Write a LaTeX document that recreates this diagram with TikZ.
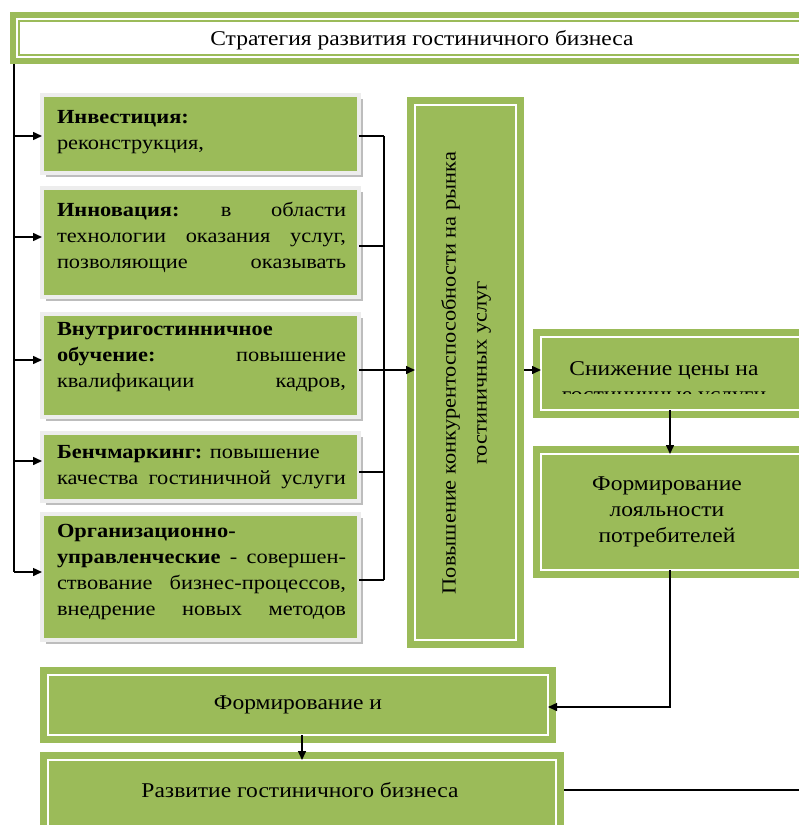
\documentclass[tikz,border=0pt]{standalone}
\usepackage{fontspec}
\setmainfont{Liberation Serif}[FakeStretch=1.12]
\usetikzlibrary{arrows.meta,shadows,fit}
\definecolor{gr}{HTML}{9BBB59}
\definecolor{lb}{HTML}{EDEDED}
\definecolor{sh}{HTML}{BDBDBD}
\newcommand\dfont{\fontsize{21}{26}\selectfont}
\newcommand\lfont{\fontsize{20}{26}\selectfont}
\begin{document}
\begin{tikzpicture}[x=1pt,y=-1pt,
  every node/.style={font=\dfont, inner sep=0pt, outer sep=0pt},
  lbox/.style={draw=lb, line width=3.5pt, fill=gr, drop shadow={shadow xshift=3.5pt, shadow yshift=-3.5pt, fill=sh, opacity=1}},
  gbox/.style={fill=gr, draw=white, line width=2pt, preaction={draw=gr, line width=16pt}},
  tbox/.style={fill=white, draw=gr, line width=1.5pt, preaction={draw=gr, line width=18pt}, preaction={draw=white, line width=6pt}},
  ltext/.style={anchor=north west, text width=289pt, align=justify, font=\lfont},
  ln/.style={line width=1.5pt, black},
  arr/.style={ln, -{Triangle[length=9pt,width=8pt]}}
]
\useasboundingbox (0,0) rectangle (799,825);
\clip (0,0) rectangle (799,825);
\fill[white] (0,0) rectangle (799,825);

% title
\node[tbox, fit={(19,21) (840,55)}] (title) {};
\node[anchor=base] (titletext) at (422,45) {Стратегия развития гостиничного бизнеса};

% left boxes
\node[lbox, fit={(42,95) (359,173)}] (b1) {};
\node[lbox, fit={(42,188) (359,297)}] (b2) {};
\node[lbox, fit={(42,314) (359,417)}] (b3) {};
\node[lbox, fit={(42,433) (359,501)}] (b4) {};
\node[lbox, fit={(42,514) (359,640)}] (b5) {};

\node[ltext] (t1) at (57,104.8) {\strut\textbf{Инвестиция:}\\реконструкция,};
\node[ltext] (t2) at (57,197.8) {\strut\textbf{Инновация:} \hfill в \hfill области\\
технологии \hfill оказания \hfill услуг,\\
позволяющие \hfill оказывать};
\node[ltext] (t3) at (57,316.8) {\strut\textbf{Внутригостинничное}\\
\textbf{обучение:} \hfill повышение\\
квалификации \hfill кадров,};
\node[ltext] (t4) at (57,439.8) {\strut\textbf{Бенчмаркинг:} повышение\\
качества \hfill гостиничной \hfill услуги};
\node[ltext] (t5) at (57,518.8) {\strut\textbf{Организационно-}\\
\textbf{управленческие} \hfill - \hfill совершен-\\
ствование \hfill бизнес-процессов,\\
внедрение \hfill новых \hfill методов};

% tall box
\node[gbox, fit={(415,105) (516,640)}] (tall) {};
\node[rotate=90, align=center, font=\fontsize{20}{31}\selectfont] (talltext) at (466,373) {Повышение конкурентоспособности на рынка\\гостиничных услуг};

% right boxes
\node[gbox, fit={(541,337) (840,410)}] (s1) {};
\begin{scope}
\clip (541,338) rectangle (840,393);
\node[anchor=base] (s1a) at (664,375) {Снижение цены на};
\node[anchor=base] (s1b) at (664,401) {гостиничные услуги};
\end{scope}
\node[gbox, fit={(541,454) (840,570)}] (f1) {};
\node[anchor=north, align=center] (f1text) at (667,471.8) {\strut Формирование\\лояльности\\потребителей};

% bottom boxes
\node[gbox, fit={(48,675) (548,735)}] (fi) {};
\node (fitext) at (298,705) {Формирование и};
\node[gbox, fit={(48,760) (556,840)}] (rz) {};
\node[anchor=base] (rztext) at (300,797) {Развитие гостиничного бизнеса};

% left bus
\coordinate (L) at (14,64);
\draw[ln] (L) -- (L |- 0,572);
\foreach \b/\y in {b1/136,b2/237,b3/360,b4/461,b5/572}
  \draw[arr] (L |- 0,\y) -- (\b.west |- 0,\y);

% right bus
\coordinate (R) at (384,136);
\foreach \b/\y in {b1/136,b2/246,b3/370,b4/472,b5/580}
  \draw[ln] (\b.east |- 0,\y) -- (R |- 0,\y);
\draw[ln] (R) -- (R |- 0,580);
\draw[arr] (R |- 0,370) -- (tall.west |- 0,370);

% flow on the right
\coordinate (TE) at (524,370);
\draw[arr] (TE) -- (s1.west |- TE);
\draw[arr] (s1.south -| 670,0) -- (f1.north -| 670,0);
\draw[arr] (f1.south -| 670,0) |- (fi.east |- 0,707);
\draw[arr] (fi.south -| 302,0) -- (rz.north -| 302,0);
\coordinate (RZE) at (564,790);
\draw[ln] (RZE) -- (799,790);
\end{tikzpicture}
\end{document}
